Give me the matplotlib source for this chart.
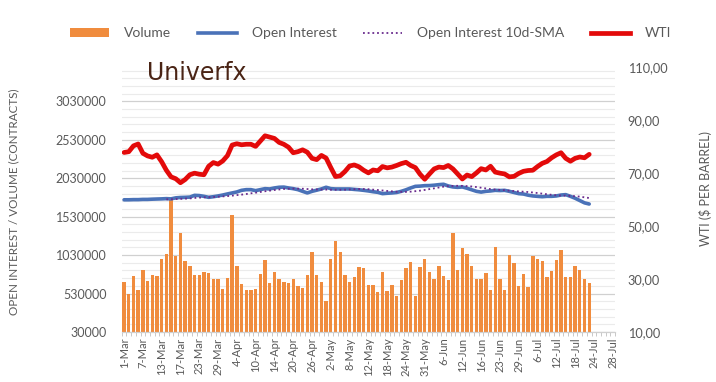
import matplotlib
matplotlib.use("Agg")
import matplotlib.pyplot as plt
from matplotlib.ticker import FixedLocator, FuncFormatter
from matplotlib.patches import Patch
from matplotlib.lines import Line2D
import numpy as np

plt.rcParams["font.family"] = ["Lato", "DejaVu Sans"]

# x axis: trading days 1-Mar .. 28-Jul, a label every 4th day
n_days = 105
tick_labels = ["1-Mar", "7-Mar", "13-Mar", "17-Mar", "23-Mar", "29-Mar", "4-Apr",
               "10-Apr", "14-Apr", "20-Apr", "26-Apr", "2-May", "8-May", "12-May",
               "18-May", "24-May", "31-May", "6-Jun", "12-Jun", "16-Jun", "23-Jun",
               "29-Jun", "6-Jul", "12-Jul", "18-Jul", "24-Jul", "28-Jul"]

# volume (contracts)
volume = [680000, 522000, 756000, 578000, 835000, 699000, 769000, 756000, 982000, 1051000,
          1760000, 1017000, 1321000, 952000, 891000, 769000, 769000, 808000, 795000, 721000,
          713000, 591000, 738000, 1556000, 891000, 660000, 578000, 578000, 591000, 782000,
          965000, 673000, 808000, 713000, 686000, 673000, 725000, 634000, 608000, 769000,
          1077000, 765000, 686000, 430000, 982000, 1213000, 1077000, 769000, 686000, 743000,
          874000, 860000, 639000, 639000, 548000, 808000, 561000, 643000, 500000, 704000,
          860000, 943000, 500000, 874000, 982000, 808000, 721000, 887000, 756000, 704000,
          1317000, 835000, 1122000, 1051000, 887000, 725000, 725000, 795000, 578000, 1135000,
          725000, 578000, 1038000, 930000, 634000, 778000, 621000, 1021000, 982000, 956000,
          743000, 822000, 965000, 1091000, 751000, 751000, 887000, 835000, 721000, 669000]

# open interest (contracts)
open_interest = [1750000, 1750000, 1752000, 1752000, 1755000, 1755000, 1758000, 1760000, 1762000, 1765000,
                 1762000, 1775000, 1780000, 1782000, 1785000, 1808000, 1805000, 1795000, 1782000, 1790000,
                 1800000, 1812000, 1826000, 1839000, 1852000, 1873000, 1882000, 1882000, 1869000, 1882000,
                 1895000, 1891000, 1904000, 1913000, 1915000, 1904000, 1895000, 1882000, 1860000, 1839000,
                 1860000, 1875000, 1891000, 1913000, 1895000, 1891000, 1891000, 1891000, 1891000, 1885000,
                 1880000, 1873000, 1865000, 1855000, 1847000, 1830000, 1835000, 1839000, 1845000, 1860000,
                 1880000, 1904000, 1925000, 1928000, 1934000, 1935000, 1940000, 1947000, 1952000, 1930000,
                 1917000, 1912000, 1917000, 1900000, 1880000, 1860000, 1850000, 1860000, 1865000, 1873000,
                 1870000, 1873000, 1860000, 1845000, 1830000, 1825000, 1810000, 1800000, 1795000, 1790000,
                 1795000, 1795000, 1800000, 1812000, 1817000, 1795000, 1770000, 1740000, 1710000, 1695000]

# 10-day moving average of open interest, as drawn (starts at day 10)
oi_sma = [None] * 9 + [
    1756000, 1757000, 1760000, 1762000, 1765000, 1768000, 1774000, 1778000, 1782000, 1784000,
    1786000, 1790000, 1794000, 1798000, 1804000, 1811000, 1817000, 1825000, 1834000, 1842000,
    1852000, 1861000, 1869000, 1877000, 1884000, 1891000, 1894000, 1895000, 1895000, 1894000,
    1890000, 1886000, 1885000, 1883000, 1883000, 1881000, 1880000, 1880000, 1881000, 1884000,
    1888000, 1890000, 1890000, 1888000, 1882000, 1877000, 1871000, 1865000, 1860000, 1855000,
    1853000, 1853000, 1856000, 1862000, 1869000, 1878000, 1889000, 1899000, 1910000, 1921000,
    1928000, 1931000, 1932000, 1931000, 1928000, 1923000, 1916000, 1907000, 1898000, 1889000,
    1883000, 1879000, 1875000, 1869000, 1864000, 1859000, 1855000, 1851000, 1845000, 1838000,
    1830000, 1822000, 1815000, 1809000, 1805000, 1804000, 1801000, 1797000, 1791000, 1782000,
    1773000]

# WTI ($ per barrel)
wti = [77.7, 78.0, 80.2, 80.9, 77.4, 76.4, 75.9, 76.8, 74.2, 71.0,
       68.5, 67.8, 66.3, 67.5, 69.3, 69.9, 69.5, 69.3, 72.5, 73.9,
       73.3, 74.5, 76.5, 80.5, 81.0, 80.6, 80.8, 80.8, 80.0, 82.0,
       84.0, 83.5, 83.0, 81.5, 80.8, 79.7, 77.6, 78.0, 78.7, 77.8,
       75.5, 75.0, 76.6, 75.6, 72.0, 68.6, 68.9, 70.5, 72.6, 73.0,
       72.3, 71.0, 70.0, 71.1, 70.8, 72.4, 71.9, 72.2, 72.8, 73.5,
       74.0, 72.8, 72.0, 69.5, 67.6, 69.6, 71.5, 72.2, 72.0, 72.8,
       71.5, 69.6, 67.7, 69.2, 68.6, 70.0, 71.6, 71.1, 72.5, 70.3,
       69.9, 69.6, 68.5, 68.7, 69.8, 70.6, 70.9, 71.0, 72.4, 73.6,
       74.3, 75.7, 76.8, 77.6, 75.5, 74.4, 75.5, 76.0, 75.7, 77.0]

orange = "#F08C3E"
blue = "#4A72B8"
purple = "#6A2C8E"
red = "#E30A0A"
grey_txt = "#595959"

fig = plt.figure(figsize=(7.16, 3.82), dpi=100)
ax = fig.add_axes([0.170, 0.131, 0.689, 0.694])
ax2 = ax.twinx()

x = np.arange(len(volume))
ax.bar(x, volume, width=0.72, color=orange, zorder=2)
ax.plot(x, open_interest, color=blue, lw=2.6, solid_capstyle="round", zorder=3)
sma = np.array([np.nan if v is None else v for v in oi_sma], dtype=float)
ax.plot(x, sma, color=purple, lw=1.3, linestyle=(0, (1, 1.6)), zorder=4)
ax2.plot(np.arange(len(wti)), wti, color=red, lw=3.4, solid_capstyle="round", zorder=3)

# left axis + gridlines (major every 500k, light minor every 100k)
ax.set_ylim(30000, 3480000)
ax.yaxis.set_major_locator(FixedLocator(np.arange(30000, 3030001, 500000)))
ax.yaxis.set_major_formatter(FuncFormatter(lambda v, p: "%d" % v))
ax.yaxis.set_minor_locator(FixedLocator(np.arange(30000, 3480000, 100000)))
ax.grid(which="major", axis="y", color="#D0D0D0", lw=0.9, zorder=0)
ax.grid(which="minor", axis="y", color="#EBEBEB", lw=0.8, zorder=0)
ax.set_axisbelow(True)
ax.tick_params(axis="y", which="both", length=0, pad=11, labelsize=9, labelcolor=grey_txt)
ax.set_ylabel("OPEN INTEREST / VOLUME (CONTRACTS)", fontsize=8.4, color=grey_txt)
ax.yaxis.set_label_coords(-0.207, 0.49)

# right axis
ax2.set_ylim(10, 110)
ax2.yaxis.set_major_locator(FixedLocator(np.arange(10, 111, 20)))
ax2.yaxis.set_major_formatter(FuncFormatter(lambda v, p: ("%.2f" % v).replace(".", ",")))
ax2.tick_params(axis="y", length=0, pad=9, labelsize=9.2, labelcolor=grey_txt)
ax2.set_ylabel("WTI ($ PER BARREL)", fontsize=9, color=grey_txt)
ax2.yaxis.set_label_coords(1.17, 0.54)

# category x axis
ax.set_xlim(-0.5, n_days - 0.5)
ax.set_xticks(np.arange(0, n_days, 4))
ax.set_xticklabels(tick_labels, rotation=90, fontsize=8, color=grey_txt)
ax.xaxis.set_minor_locator(FixedLocator(np.arange(-0.5, n_days, 1)))
ax.tick_params(axis="x", which="major", length=0, pad=4)
ax.tick_params(axis="x", which="minor", length=3, color="#C8C8C8", width=0.7)

for a in (ax, ax2):
    for s in ("top", "left", "right"):
        a.spines[s].set_visible(False)
    a.spines["bottom"].set_color("#D0D0D0")

# legend on top
handles = [Patch(facecolor=orange, edgecolor="none"),
           Line2D([], [], color=blue, lw=2.6),
           Line2D([], [], color=purple, lw=1.3, linestyle=(0, (1, 1.6))),
           Line2D([], [], color=red, lw=3.4)]
fig.legend(handles, ["Volume", "Open Interest", "Open Interest 10d-SMA", "WTI"],
           loc="center", bbox_to_anchor=(0.518, 0.913), ncol=4, frameon=False,
           fontsize=10, handlelength=2.8, handleheight=0.6, columnspacing=1.9,
           handletextpad=1.1, labelcolor=grey_txt)

# watermark
fig.text(0.206, 0.81, "Univerfx", fontsize=17, color="#4A2415", va="center",
         family=["Liberation Sans Narrow", "DejaVu Sans"])

fig.savefig("out.png", dpi=100)
